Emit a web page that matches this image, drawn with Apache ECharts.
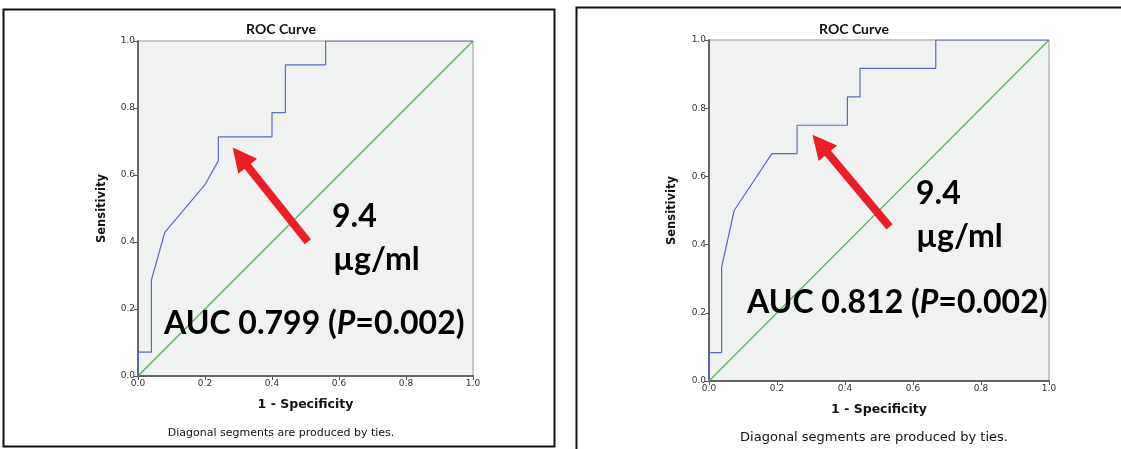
<!DOCTYPE html>
<html>
<head>
<meta charset="utf-8">
<title>ROC Curves</title>
<script src="https://cdn.jsdelivr.net/npm/echarts@6/dist/echarts.min.js"></script>
<style>
    html, body { margin: 0; padding: 0; background: #fff; }
    #roc { width: 1121px; height: 449px; }
</style>
</head>
<body>
<div id="roc"></div>
<script type="text/javascript">
    // ROC vertices, left panel (1 - specificity, sensitivity)
    var fprLeft = [0, 0, 0.04, 0.04, 0.08, 0.20, 0.24, 0.24, 0.40, 0.40, 0.44, 0.44, 0.56, 0.56, 1.0];
    var tprLeft = [0, 0.071, 0.071, 0.286, 0.429, 0.571, 0.643, 0.714, 0.714, 0.786, 0.786, 0.929, 0.929, 1.0, 1.0];
    // right panel
    var fprRight = [0, 0, 0.037, 0.037, 0.074, 0.185, 0.259, 0.259, 0.407, 0.407, 0.444, 0.444, 0.667, 0.667, 1.0];
    var tprRight = [0, 0.083, 0.083, 0.333, 0.5, 0.667, 0.667, 0.75, 0.75, 0.833, 0.833, 0.917, 0.917, 1.0, 1.0];
    var diagonal = [[0, 0], [1, 1]];
    var axisTicks = [0, 0.2, 0.4, 0.6, 0.8, 1.0];
    // arrow from the label towards the cut-off point (end = base of the head)
    var arrowLeft = [[0.507, 0.401], [0.305, 0.654]];
    var arrowRight = [[0.531, 0.452], [0.327, 0.695]];
    var cutoffText = '9.4';
    var unitText = 'µg/ml';
    var aucLeft = '0.799', aucRight = '0.812';
    var pLeft = '0.002', pRight = '0.002';

    function pairs(xs, ys) {
        return xs.map(function (x, i) { return [x, ys[i]]; });
    }

    var myChart = echarts.init(document.getElementById('roc'));

    function axis(idx, isY, gap) {
        return {
            type: 'value',
            gridIndex: idx,
            min: axisTicks[0],
            max: axisTicks[axisTicks.length - 1],
            interval: 0.2,
            name: isY ? 'Sensitivity' : '1 - Specificity',
            nameLocation: 'middle',
            nameGap: gap,
            nameTextStyle: {fontFamily: 'DejaVu Sans', fontWeight: 'bold', fontSize: isY ? 11.5 : 12.5, color: '#111'},
            axisLine: {show: true, lineStyle: {color: '#666', width: 2}},
            axisTick: {show: true, length: 4, lineStyle: {color: '#555'}},
            axisLabel: {
                fontFamily: 'DejaVu Sans', fontSize: 9, color: '#333', margin: 3,
                formatter: function (v) { return v.toFixed(1); }
            },
            splitLine: {show: false}
        };
    }

    function rocSeries(idx, data) {
        return {
            type: 'line', xAxisIndex: idx, yAxisIndex: idx,
            data: data, showSymbol: false, symbol: 'none', silent: true,
            color: '#5a6cbc',
            lineStyle: {color: '#5a6cbc', width: 1.2}, z: 4
        };
    }

    function diagSeries(idx) {
        return {
            type: 'line', xAxisIndex: idx, yAxisIndex: idx,
            data: diagonal, showSymbol: false, symbol: 'none', silent: true,
            color: '#4cb84c',
            itemStyle: {color: '#4cb84c'},
            lineStyle: {color: '#4cb84c', width: 1.2}, z: 3
        };
    }

    function arrowSeries(idx, coords) {
        return {
            type: 'lines', coordinateSystem: 'cartesian2d', xAxisIndex: idx, yAxisIndex: idx,
            data: [{coords: coords}],
            symbol: ['none', 'triangle'], symbolSize: [26, 24], silent: true,
            lineStyle: {color: '#ee1c25', width: 8, opacity: 1}, z: 5
        };
    }

    function label(x, y, text, size) {
        return {
            type: 'text', left: x, top: y, z: 10,
            style: {text: text, font: 'bold ' + size + 'px Lato', fill: '#000'}
        };
    }

    function aucLabel(x, y, auc, p) {
        return {
            type: 'text', left: x, top: y, z: 10,
            style: {
                text: '{b|AUC ' + auc + ' (}{i|P}{b|=' + p + ')}',
                rich: {
                    b: {font: 'bold 32px Lato', fill: '#000'},
                    i: {font: 'italic bold 32px Lato', fill: '#000'}
                }
            }
        };
    }

    function smallText(x, y, text, font) {
        return {
            type: 'text', x: x, y: y, z: 10,
            style: {text: text, font: font, fill: '#111', align: 'center', verticalAlign: 'middle'}
        };
    }

    option = {
        animation: false,
        backgroundColor: '#fff',
        grid: [
            {left: 138, top: 41, width: 335, height: 335, show: true, backgroundColor: '#f0f1f1', borderColor: '#999', borderWidth: 1},
            {left: 709, top: 40, width: 340, height: 341, show: true, backgroundColor: '#f0f1f1', borderColor: '#999', borderWidth: 1}
        ],
        xAxis: [axis(0, false, 22), axis(1, false, 22)],
        yAxis: [axis(0, true, 30), axis(1, true, 31)],
        series: [
            diagSeries(0), rocSeries(0, pairs(fprLeft, tprLeft)), arrowSeries(0, arrowLeft),
            diagSeries(1), rocSeries(1, pairs(fprRight, tprRight)), arrowSeries(1, arrowRight)
        ],
        graphic: [
            // panel frames
            {type: 'rect', shape: {x: 3.5, y: 9.5, width: 551, height: 437}, style: {fill: 'none', stroke: '#111', lineWidth: 2}, z: 0},
            {type: 'rect', shape: {x: 576.5, y: 7.5, width: 600, height: 460}, style: {fill: 'none', stroke: '#111', lineWidth: 2}, z: 0},
            smallText(281, 29, 'ROC Curve', 'bold 14px Lato'),
            smallText(854, 29, 'ROC Curve', 'bold 14px Lato'),
            smallText(281, 433, 'Diagonal segments are produced by ties.', '11px "DejaVu Sans"'),
            smallText(874, 438, 'Diagonal segments are produced by ties.', '13px "DejaVu Sans"'),
            label(332, 201, cutoffText, 32),
            label(333, 244, unitText, 32),
            aucLabel(164, 308, aucLeft, pLeft),
            label(916, 178, cutoffText, 32),
            label(916, 221, unitText, 32),
            aucLabel(747, 287, aucRight, pRight)
        ]
    };
    myChart.setOption(option, true);
</script>
</body>
</html>
